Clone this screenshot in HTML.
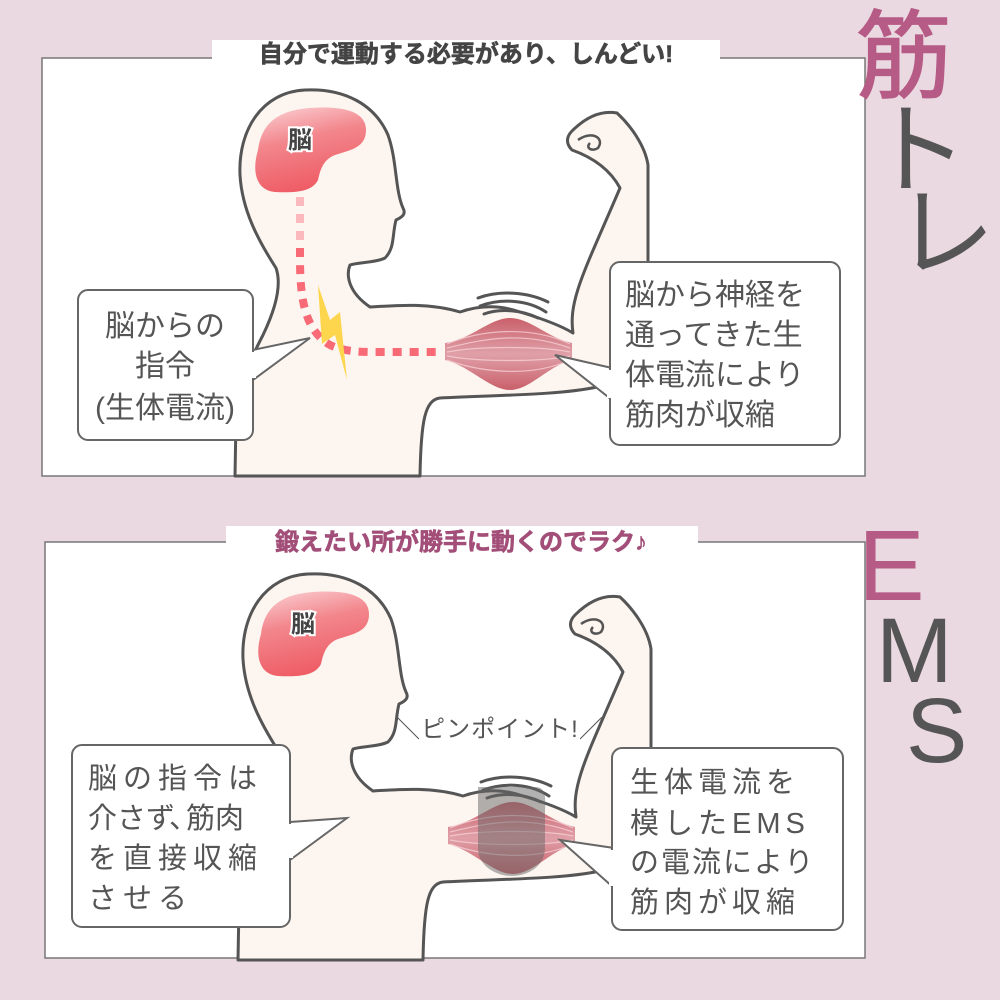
<!DOCTYPE html>
<html><head><meta charset="utf-8"><style>
html,body{margin:0;padding:0;background:#ead9e0;}
svg{display:block;}
text{font-family:"Liberation Sans","Noto Sans CJK JP",sans-serif;}
</style></head><body>
<svg width="1000" height="1000" viewBox="0 0 1000 1000" xmlns="http://www.w3.org/2000/svg">
<defs>
<linearGradient id="br" x1="0" y1="0" x2="0.3" y2="1"><stop offset="0" stop-color="#fbd3d6"/><stop offset="0.45" stop-color="#f2868c"/><stop offset="1" stop-color="#ef5d66"/></linearGradient>
<linearGradient id="ms" x1="0" y1="0" x2="0" y2="1"><stop offset="0" stop-color="#c9606a"/><stop offset="0.5" stop-color="#e0a0a8"/><stop offset="1" stop-color="#c9606a"/></linearGradient>
<g id="body">
<path d="M235,476 L236,420 C236,390 250,360 263,335 C275,310 282,285 276,268 C258,240 242,210 240,175 C238,130 262,92 305,90 C345,88 375,105 388,135 C397,160 395,190 403,208 C407,215 400,218 396,220 C392,235 395,248 385,258 C375,263 358,262 350,265 C346,275 348,292 370,307 C400,305 430,303 460,312 C480,305 500,305 520,312 C540,318 560,325 573,333 C568,300 585,270 620,188 C613,175 600,160 572,150 C567,145 565,138 572,131 C585,118 600,110 617,113 C630,125 645,145 648,165 L648,270 C648,320 640,360 597,387 C560,395 500,395 440,398 C425,400 421,420 420,476 Z" fill="#fdf5ef" stroke="#555" stroke-width="3" stroke-linejoin="round"/>
<path d="M578,140 C592,130 605,138 598,148 C592,152 585,148 590,143" fill="none" stroke="#555" stroke-width="2.5"/>
<path d="M258,150 C262,118 285,110 310,108 C340,106 366,110 366,130 C366,148 350,150 335,155 C322,160 320,172 318,180 C312,192 295,193 275,192 C255,190 252,170 258,150 Z" fill="url(#br)"/>
<path d="M478,298 C500,290 528,292 548,302 M480,306 C502,298 528,300 546,312 M484,314 C500,308 522,310 538,318" fill="none" stroke="#555" stroke-width="3" stroke-linecap="round"/>
<path d="M445,343 C470,340 490,318 510,318 C530,318 548,338 572,343 L572,360 C548,366 530,390 510,390 C490,390 470,366 445,360 Z" fill="url(#ms)"/>
<path d="M447,348 C480,340 520,330 570,348 M447,352 C480,346 540,346 570,352 M447,356 C480,362 540,362 570,356 M447,344 C480,330 530,325 570,344 M447,360 C480,372 530,378 570,360" fill="none" stroke="#f5d0d4" stroke-width="1.2" opacity="0.8"/>
</g>
</defs>

<!-- top panel -->
<rect x="42" y="58" width="823" height="418" fill="#fff" stroke="#777" stroke-width="1.5"/>
<use href="#body"/>
<text x="300" y="148" font-size="24" font-weight="bold" fill="#444" stroke="#fff" stroke-width="4" paint-order="stroke" text-anchor="middle">脳</text>
<path d="M300,197 L300,258 C300,300 305,330 330,345 C345,352 360,352 380,352 L442,352" fill="none" stroke="#f76a76" stroke-width="8" stroke-dasharray="9,8"/>
<path d="M300,197 L300,240" fill="none" stroke="#fbb8bd" stroke-width="8" stroke-dasharray="9,8"/>
<polygon points="318,285 330,320 340,312 347,380 335,335 322,344" fill="#fdd64e"/>
<rect x="212" y="40" width="508" height="28" fill="#fff"/>
<text x="466" y="62" font-size="24" font-weight="bold" fill="#444" text-anchor="middle" stroke="#444" stroke-width="0.6">自分で運動する必要があり、しんどい!</text>
<path d="M253,350 L310,338 L253,380" fill="#fff" stroke="#666" stroke-width="2"/>
<rect x="78" y="290" width="175" height="150" rx="10" fill="#fff" stroke="#666" stroke-width="2"/>
<rect x="250" y="352" width="6" height="26" fill="#fff"/>
<g font-size="30" fill="#555" text-anchor="middle"><text x="165" y="336">脳からの</text><text x="165" y="376">指令</text><text x="165" y="418">(生体電流)</text></g>
<path d="M612,368 L555,355 L612,400" fill="#fff" stroke="#666" stroke-width="2"/>
<rect x="610" y="262" width="230" height="183" rx="10" fill="#fff" stroke="#666" stroke-width="2"/>
<rect x="607" y="370" width="6" height="28" fill="#fff"/>
<g font-size="30" fill="#555"><text x="625" y="305">脳から神経を</text><text x="625" y="345">通ってきた生</text><text x="625" y="385">体電流により</text><text x="625" y="425">筋肉が収縮</text></g>

<!-- bottom panel -->
<rect x="45" y="542" width="820" height="416" fill="#fff" stroke="#777" stroke-width="1.5"/>
<g transform="translate(3,484)"><use href="#body"/></g>
<text x="303" y="632" font-size="24" font-weight="bold" fill="#444" stroke="#fff" stroke-width="4" paint-order="stroke" text-anchor="middle">脳</text>
<path d="M478,787 L535,787 C545,787 546,795 545,810 L545,848 C545,866 528,876 512,876 C496,876 478,866 478,848 Z" fill="#666" opacity="0.5"/>
<rect x="226" y="526" width="472" height="28" fill="#fff"/>
<text x="461" y="550" font-size="24" font-weight="bold" fill="#a24e78" stroke="#a24e78" stroke-width="0.6" text-anchor="middle">鍛えたい所が勝手に動くのでラク♪</text>
<text x="500" y="737" font-size="24" fill="#555" text-anchor="middle" letter-spacing="1">＼ピンポイント!／</text>
<path d="M290,822 L347,818 L290,860" fill="#fff" stroke="#666" stroke-width="2"/>
<rect x="72" y="745" width="218" height="182" rx="10" fill="#fff" stroke="#666" stroke-width="2"/>
<rect x="287" y="824" width="6" height="34" fill="#fff"/>
<g font-size="29" fill="#555" letter-spacing="6"><text x="88" y="788">脳の指令は</text><text x="88" y="828" letter-spacing="0">介さず<tspan dx="-4">、</tspan><tspan dx="-12">筋肉</tspan></text><text x="88" y="868">を直接収縮</text><text x="88" y="908">させる</text></g>
<path d="M614,848 L560,840 L614,888" fill="#fff" stroke="#666" stroke-width="2"/>
<rect x="612" y="748" width="231" height="182" rx="10" fill="#fff" stroke="#666" stroke-width="2"/>
<rect x="609" y="850" width="6" height="36" fill="#fff"/>
<g font-size="29" fill="#555" letter-spacing="5"><text x="630" y="792">生体電流を</text><text x="630" y="833">模したEMS</text><text x="630" y="872" letter-spacing="2">の電流により</text><text x="630" y="912">筋肉が収縮</text></g>

<!-- big side titles -->
<g font-size="92">
<text x="856" y="90" fill="#b65a86" font-size="96" stroke="#b65a86" stroke-width="1.5">筋</text>
<text x="868" y="185" fill="#555" font-size="100">ト</text>
<text x="895" y="268" fill="#555" font-size="100">レ</text>
<text x="858" y="600" fill="#b65a86" font-size="100">E</text>
<text x="876" y="682" fill="#555" font-size="92">M</text>
<text x="906" y="762" fill="#555" font-size="92">S</text>
</g>
</svg>
</body></html>
